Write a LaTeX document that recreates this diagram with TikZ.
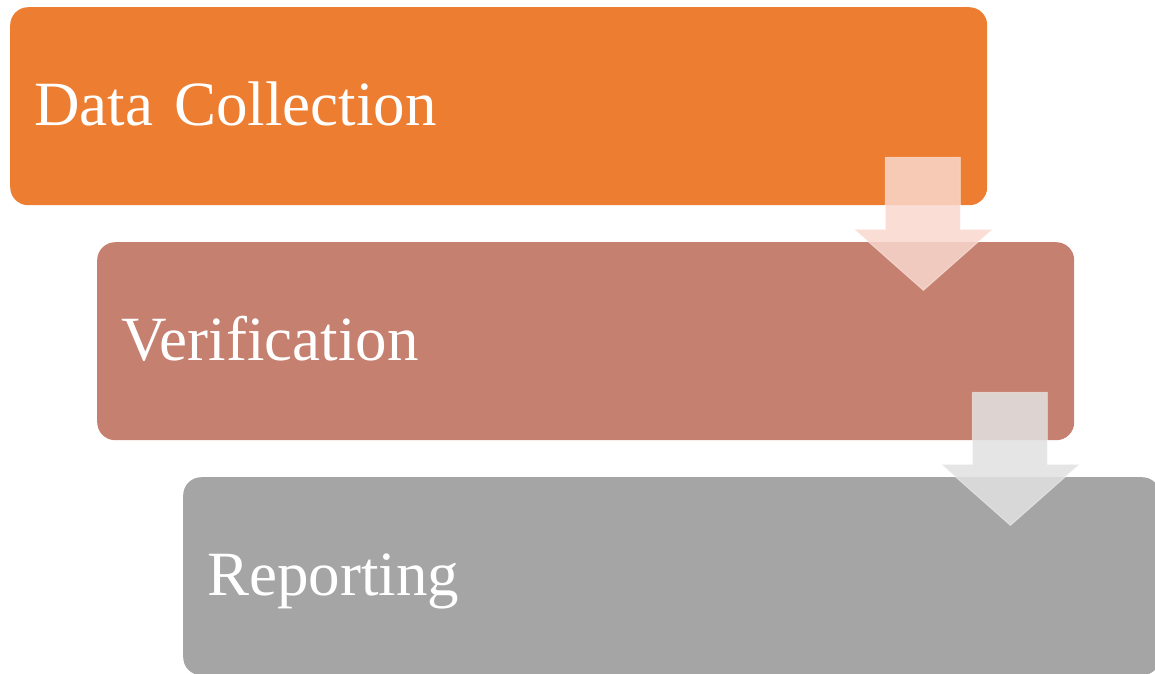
\documentclass[tikz,border=0pt]{standalone}
\usepackage{fontspec}
\setmainfont{Liberation Serif}
\usetikzlibrary{positioning}

\definecolor{collectorange}{HTML}{ED7D31}
\definecolor{verifybrown}{HTML}{C5806F}
\definecolor{reportgray}{HTML}{A5A5A5}
\definecolor{pinkarrow}{RGB}{249,215,205}
\definecolor{grayarrow}{RGB}{225,225,225}

\begin{document}
\begin{tikzpicture}[
		x=1pt, y=-1pt,
		stage/.style	={ anchor=north west,
			minimum width=977pt, minimum height=198pt,
			rounded corners=18pt, inner xsep=24pt,
			text width=929pt, align=left,
			text height=38pt, text depth=0pt,
			text=white, font=\fontsize{63}{70}\selectfont,
		},
		flow/.style	={ draw=white, draw opacity=0.4, line width=1pt,
			fill opacity=0.86, line join=miter,
		},
	]
	\useasboundingbox (0,0) rectangle (1155,673);
	
	\def\stagelist{ 10/7/1/collectorange/Data Collection, 97/242/2/verifybrown/Verification, 183/477/3/reportgray/Reporting}
	
	% draw stages
	\foreach \x/\y/\n/\col/\txt in \stagelist
		\node [stage, fill=\col] (stage_\n) at (\x,\y) {\txt};
	
	% draw arrows
	\foreach \n/\col in {1/pinkarrow, 2/grayarrow}
		\draw [flow, fill=\col, shift={(stage_\n.south east)}]
			(-102,-48) -- (-27,-48) -- (-27,24) -- (5,24)
			-- (-64,85) -- (-133,24) -- (-102,24) -- cycle;
	
\end{tikzpicture}
\end{document}
